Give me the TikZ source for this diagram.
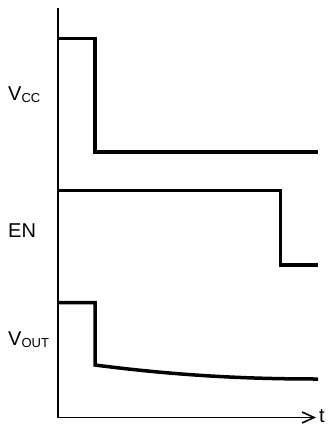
\documentclass[tikz,border=0pt]{standalone}
\usepackage{fontspec}
\setmainfont{Liberation Sans}
\usetikzlibrary{arrows.meta}
\newcommand{\lowsub}[1]{{\fontsize{13}{14}\selectfont\raisebox{-2pt}{#1}}}
\begin{document}
\begin{tikzpicture}[x=1pt,y=-1pt,
  axis/.style={line width=1.6pt},
  wave/.style={line width=3.5pt, line join=miter},
  lbl/.style={font=\fontsize{20}{24}\selectfont, inner sep=0pt, anchor=base west}]
\useasboundingbox (0,0) rectangle (330,426);
% axes
\coordinate (top) at (58,8);
\coordinate (origin) at (58,417.5);
\coordinate (tend) at (316,417.5);
\draw[axis] (top) -- (origin);
\draw[axis, -{Straight Barb[length=12pt,width=11pt,line width=1.6pt]}] (origin) -- (tend);
\node[lbl] (t) at (319,422.5) {t};
% VCC
\coordinate (v1) at (58,38.5);
\coordinate (v2) at (95,38.5);
\coordinate (v3) at (95,152);
\coordinate (v4) at (318,152);
\draw[wave] (v1) -- (v2) -- (v3) -- (v4);
\node[lbl] (vcc) at (8,100) {V\lowsub{CC}};
% EN
\coordinate (e1) at (58,190.5);
\coordinate (e2) at (280.5,190.5);
\coordinate (e3) at (280.5,265);
\coordinate (e4) at (318,265);
\draw[wave] (e1) -- (e2) -- (e3) -- (e4);
\node[lbl] (en) at (8,237.5) {EN};
% VOUT
\coordinate (o1) at (58,302.5);
\coordinate (o2) at (95,302.5);
\coordinate (o3) at (95,365);
\coordinate (o4) at (318,379);
\draw[wave] (o1) -- (o2) -- (o3) .. controls (180,376) and (250,379) .. (o4);
\node[lbl] (vout) at (8,345) {V\lowsub{OUT}};
\end{tikzpicture}
\end{document}
